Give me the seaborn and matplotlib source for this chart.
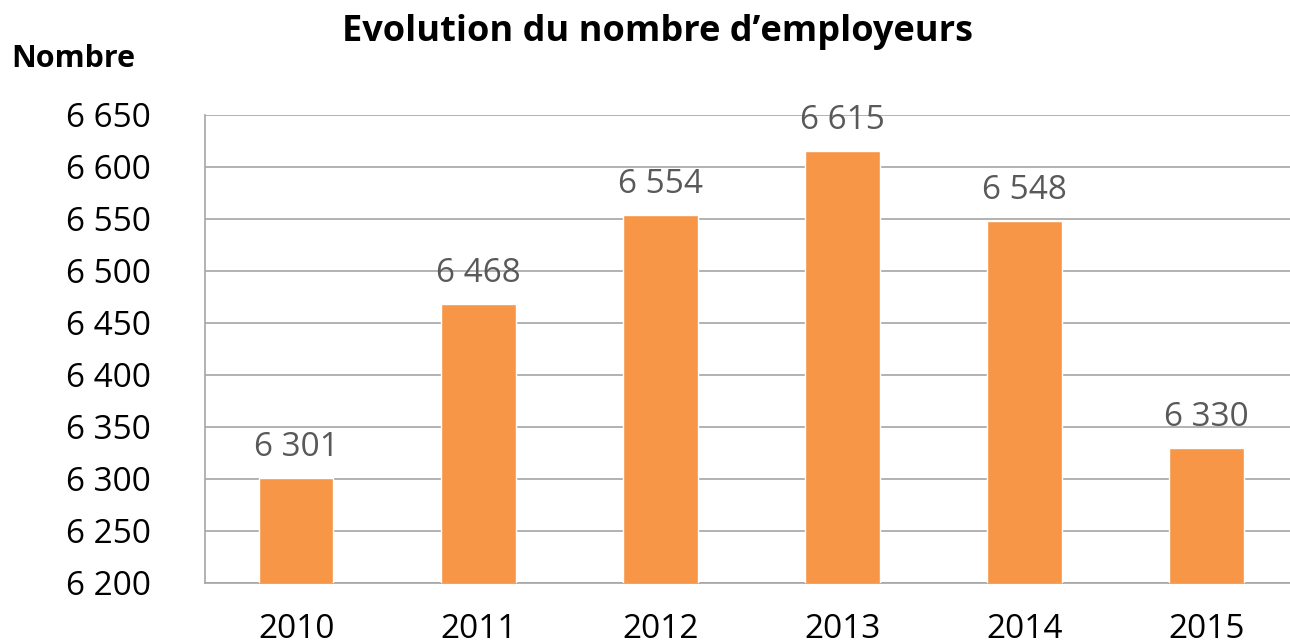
import matplotlib
matplotlib.use("Agg")
import matplotlib.pyplot as plt
import seaborn as sns
import pandas as pd
from matplotlib.ticker import FixedLocator, FuncFormatter

# data
years = ["2010", "2011", "2012", "2013", "2014", "2015"]
employeurs = [6301, 6468, 6554, 6615, 6548, 6330]
y_ticks = [6200, 6250, 6300, 6350, 6400, 6450, 6500, 6550, 6600, 6650]

df = pd.DataFrame({"Annee": years, "Nombre": employeurs})

sns.set_theme(style="white")
plt.rcParams["font.family"] = ["Open Sans", "DejaVu Sans"]

grid_col = "#A6A6A6"
bar_col = "#F79646"

def fmt(v, pos=None):
    return f"{int(v):,}".replace(",", " ")

fig = plt.figure(figsize=(12.9, 6.42), dpi=100)
ax = fig.add_axes([0.159, 0.092, 0.847, 0.729])

sns.barplot(data=df, x="Annee", y="Nombre", color=bar_col, width=0.41,
            saturation=1, ax=ax, zorder=3)

ax.set_ylim(6200, 6650)
ax.set_xlim(-0.5, 5.5)
ax.yaxis.set_major_locator(FixedLocator(y_ticks))
ax.yaxis.set_major_formatter(FuncFormatter(fmt))
ax.grid(axis="y", color=grid_col, linewidth=1.2, zorder=0)
ax.set_axisbelow(True)

for s in ["top", "right"]:
    ax.spines[s].set_visible(False)
for s in ["left", "bottom"]:
    ax.spines[s].set_color(grid_col)
    ax.spines[s].set_linewidth(1.2)

ax.tick_params(axis="y", length=10, width=1.2, color=grid_col, pad=29,
               labelsize=24, labelcolor="#000000")
ax.tick_params(axis="x", which="major", length=0, pad=22, labelsize=24,
               labelcolor="#000000")
ax.xaxis.set_minor_locator(FixedLocator([i - 0.5 for i in range(len(years) + 1)]))
ax.tick_params(axis="x", which="minor", length=8, width=1.2, color=grid_col)

ax.set_xlabel("")
ax.set_ylabel("")

for i, v in enumerate(employeurs):
    ax.annotate(fmt(v), (i, v), xytext=(0, 10), textcoords="offset points",
                ha="center", va="bottom", fontsize=24, color="#595959")

fig.text(0.51, 0.95, "Evolution du nombre d\u2019employeurs", ha="center",
         va="center", fontsize=26, fontweight="bold", color="#000000")
fig.text(0.009, 0.908, "Nombre", ha="left", va="center", fontsize=22,
         fontweight="bold", color="#000000")

fig.savefig("out.png", dpi=100)
